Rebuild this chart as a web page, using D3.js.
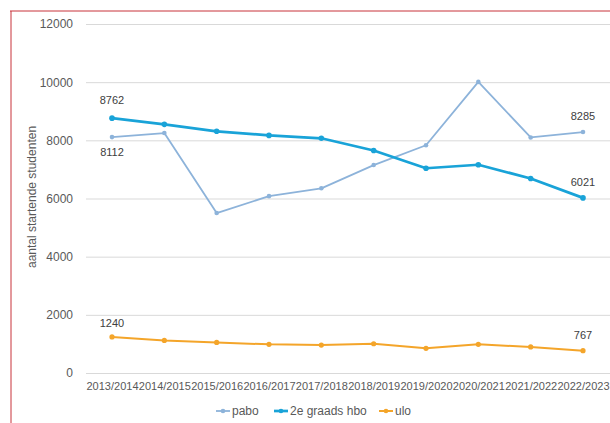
<!DOCTYPE html>
<html>
<head>
<meta charset="utf-8">
<script src="https://cdn.jsdelivr.net/npm/d3@7"></script>
<style>
  body { margin: 0; background: #fff; }
  svg { display: block; font-family: "Liberation Sans", Arial, sans-serif; }
</style>
</head>
<body>
<div id="chart"></div>
<script>
// school years on the x axis
const years = ["2013/2014", "2014/2015", "2015/2016", "2016/2017", "2017/2018",
               "2018/2019", "2019/2020", "2020/2021", "2021/2022", "2022/2023"];
const pabo = [8112, 8250, 5500, 6080, 6350, 7150, 7830, 10010, 8100, 8285];
const hbo  = [8762, 8550, 8310, 8170, 8070, 7650, 7040, 7160, 6690, 6021];
const ulo  = [1240, 1120, 1050, 985, 960, 1005, 850, 985, 895, 767];
const yTicks = [0, 2000, 4000, 6000, 8000, 10000, 12000];

const W = 610, H = 423;
const svg = d3.select("#chart").append("svg")
    .attr("width", W)
    .attr("height", H);

const x = d3.scalePoint().domain(years).range([112, 583]);
const y = d3.scaleLinear().domain([0, 12000]).range([373, 24]);

// page border (red frame of the scan)
svg.append("line").attr("x1", 10).attr("x2", W).attr("y1", 11).attr("y2", 11)
    .attr("stroke", "#c8323a").attr("stroke-width", 1);
svg.append("line").attr("x1", 11).attr("x2", 11).attr("y1", 11).attr("y2", H)
    .attr("stroke", "#c8323a").attr("stroke-width", 1);

// gridlines + y labels
const yAxis = d3.axisLeft(y).tickValues(yTicks).tickFormat(d3.format("d"))
    .tickSize(-(W - 86)).tickPadding(13);
const gy = svg.append("g").attr("transform", "translate(86,0)").call(yAxis);
gy.select(".domain").remove();
gy.selectAll(".tick line").attr("stroke", "#d9d9d9");
gy.selectAll(".tick text").attr("fill", "#595959").style("font-size", "12px");

// x labels
const xAxis = d3.axisBottom(x).tickSize(0).tickPadding(9);
const gx = svg.append("g").attr("transform", "translate(0,373)").call(xAxis);
gx.select(".domain").remove();
gx.selectAll(".tick text").attr("fill", "#595959").style("font-size", "11px");

svg.append("text")
    .attr("transform", "translate(36,197) rotate(-90)")
    .attr("text-anchor", "middle")
    .attr("fill", "#595959")
    .style("font-size", "12px")
    .text("aantal startende studenten");

const series = [
  { name: "pabo", values: pabo, color: "#8db3da", width: 1.8, r: 2.3 },
  { name: "2e graads hbo", values: hbo, color: "#19a3d8", width: 2.7, r: 2.8 },
  { name: "ulo", values: ulo, color: "#f4a52a", width: 2, r: 2.6 }
];

const line = d3.line().x((d, i) => x(years[i])).y(d => y(d));

series.forEach(s => {
  svg.append("path")
      .datum(s.values)
      .attr("fill", "none")
      .attr("stroke", s.color)
      .attr("stroke-width", s.width)
      .attr("stroke-linejoin", "round")
      .attr("d", line);
  svg.selectAll(null)
      .data(s.values)
      .enter()
      .append("circle")
      .attr("cx", (d, i) => x(years[i]))
      .attr("cy", d => y(d))
      .attr("r", s.r)
      .attr("fill", s.color);
});

// data labels at first and last point
const labels = [
  { v: hbo[0], i: 0, dy: -14 },
  { v: pabo[0], i: 0, dy: 19 },
  { v: pabo[9], i: 9, dy: -12 },
  { v: hbo[9], i: 9, dy: -12 },
  { v: ulo[0], i: 0, dy: -10 },
  { v: ulo[9], i: 9, dy: -12 }
];
svg.selectAll(null)
    .data(labels)
    .enter()
    .append("text")
    .attr("x", d => x(years[d.i]))
    .attr("y", d => y(d.v) + d.dy)
    .attr("text-anchor", "middle")
    .attr("fill", "#404040")
    .style("font-size", "11px")
    .text(d => d.v);

// legend
const legX = [216, 274, 379];
const leg = svg.selectAll(".leg")
    .data(series)
    .enter()
    .append("g")
    .attr("class", "leg")
    .attr("transform", (d, i) => `translate(${legX[i]},411)`);
leg.append("line").attr("x1", 0).attr("x2", 14)
    .attr("stroke", d => d.color).attr("stroke-width", d => d.width);
leg.append("circle").attr("cx", 7).attr("r", 2.3).attr("fill", d => d.color);
leg.append("text")
    .attr("x", 16).attr("dy", "0.35em")
    .attr("fill", "#595959")
    .style("font-size", "12px")
    .text(d => d.name);
</script>
</body>
</html>
